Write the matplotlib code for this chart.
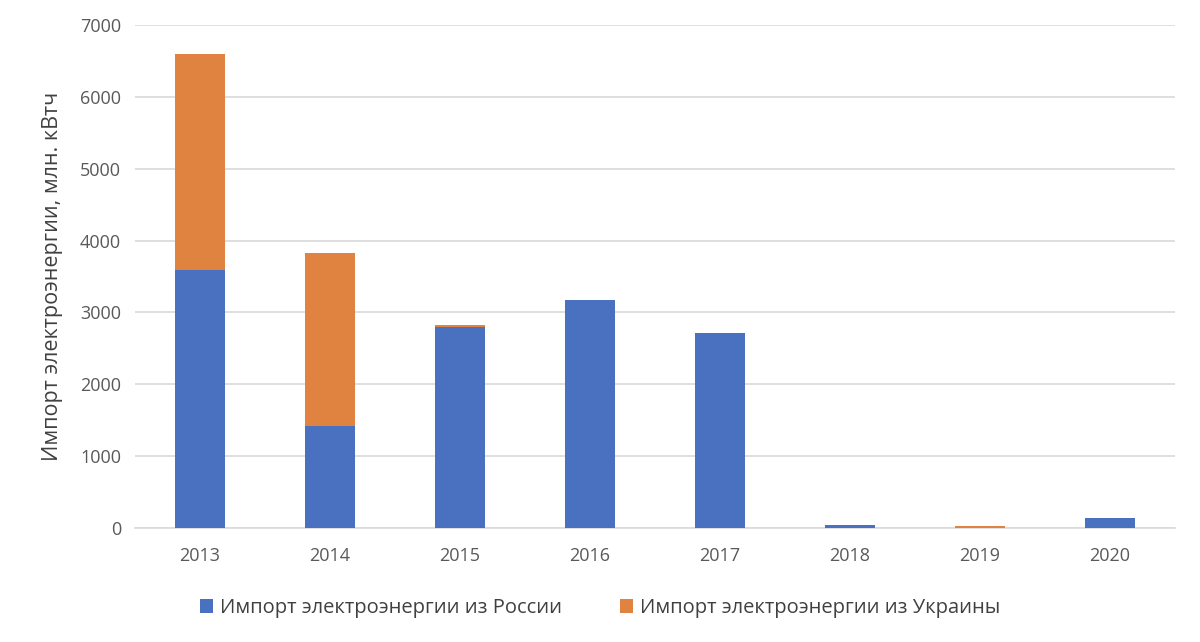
import matplotlib
matplotlib.use("Agg")
import matplotlib.pyplot as plt
import numpy as np

years = ["2013", "2014", "2015", "2016", "2017", "2018", "2019", "2020"]
russia = [3590, 1420, 2800, 3170, 2720, 35, 0, 140]
ukraine = [3010, 2400, 25, 0, 0, 0, 30, 0]
yticks = [0, 1000, 2000, 3000, 4000, 5000, 6000, 7000]

plt.rcParams['font.family'] = ['Open Sans', 'DejaVu Sans']

fig = plt.figure(figsize=(12, 6.42), dpi=100)
ax = fig.add_axes([0.1125, 0.1776, 0.8667, 0.7835])

x = np.arange(len(years))
w = 0.39
b1 = ax.bar(x, russia, w, color="#4a70c0", label="Импорт электроэнергии из России", zorder=3)
b2 = ax.bar(x, ukraine, w, bottom=russia, color="#e08240", label="Импорт электроэнергии из Украины", zorder=3)

ax.set_xlim(-0.5, len(years) - 0.5)
ax.set_ylim(0, 7000)
ax.set_yticks(yticks)
ax.set_xticks(x)
ax.set_xticklabels(years)
ax.grid(axis="y", color="#d9d9d9", linewidth=1.2, zorder=0)
for s in ["top", "right", "left"]:
    ax.spines[s].set_visible(False)
ax.spines["bottom"].set_color("#d9d9d9")
ax.spines["bottom"].set_linewidth(1.2)
ax.tick_params(axis="y", length=0, labelsize=13, colors="#595959", pad=10)
ax.tick_params(axis="x", length=0, labelsize=13, colors="#595959", pad=14)
ax.set_ylabel("Импорт электроэнергии, млн. кВтч", fontsize=15.5, color="#404040", labelpad=12)

leg = fig.legend(handles=[b1, b2], loc="center", bbox_to_anchor=(0.5, 0.053), ncol=2,
                 frameon=False, fontsize=14.5, handlelength=0.65, handleheight=0.65,
                 handletextpad=0.35, columnspacing=2.9)
for t in leg.get_texts():
    t.set_color("#404040")

fig.savefig("out.png", dpi=100)
